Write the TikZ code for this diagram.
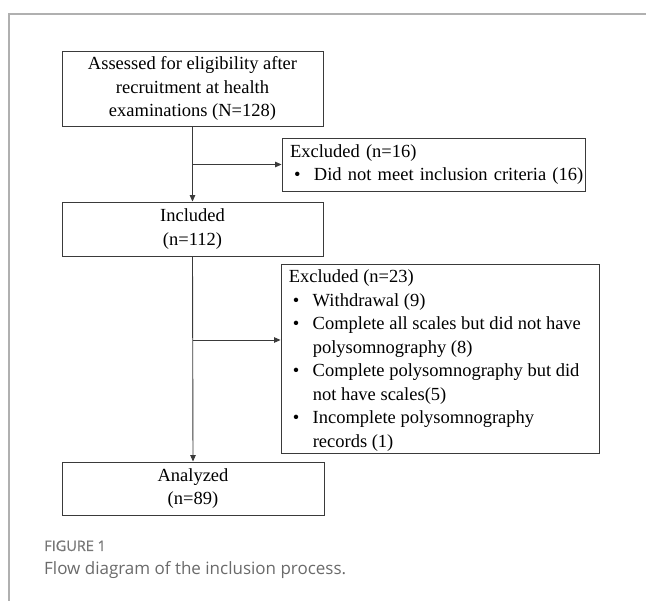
\documentclass[tikz,border=0pt]{standalone}
\usepackage{fontspec}
\setmainfont{Liberation Serif}
\newfontfamily\capfont{Open Sans}
\newfontfamily\figfont[FakeBold=0.8]{Open Sans}
\usetikzlibrary{arrows.meta,calc}
\definecolor{framegray}{HTML}{B0B0B0}
\definecolor{boxline}{HTML}{3A3A3A}
\definecolor{capgray}{HTML}{6A6A6A}
\definecolor{figgray}{HTML}{767676}
\newcommand{\bitem}{\hspace*{4pt}\makebox[20pt][l]{\textbullet}}
\newcommand{\bcont}{\hspace*{24pt}}
\begin{document}
\begin{tikzpicture}[x=1pt,y=-1pt,
  txt/.style={inner sep=0pt, font=\fontsize{18.5}{23.5}\selectfont},
  box/.style={txt, draw=boxline, line width=0.9pt},
  cbox/.style={box, align=center},
  lbox/.style={box, align=left, inner xsep=8pt},
  arr/.style={draw=boxline, line width=0.9pt, -{Triangle[length=6.5pt,width=5.5pt]}}]
\useasboundingbox (0,0) rectangle (646,601);
\draw[framegray, line width=1.2pt] (646,14) -- (9,14) -- (9,601);

\node[cbox, minimum width=261pt, minimum height=75pt] (b1) at (192.5,88.5)
  {Assessed for eligibility after\\recruitment at health\\examinations (N=128)};
\node[lbox, text width=287pt, minimum height=53pt] (ex1) at (433.5,164.5)
  {\mbox{Excluded (n=16)}\\\mbox{\bitem Did not meet inclusion criteria (16)}};
\node[cbox, minimum width=261pt, minimum height=54pt] (inc) at (192.5,229)
  {Included\\(n=112)};
\node[box, minimum width=318pt, minimum height=189pt] (ex2) at (440,358.5) {};
\node[txt, align=left, anchor=north west] (ex2t) at ([xshift=8pt,yshift=-6pt]ex2.north west)
  {Excluded (n=23)\\
   \bitem Withdrawal (9)\\
   \bitem Complete all scales but did not have\\
   \bcont polysomnography (8)\\
   \bitem Complete polysomnography but did\\
   \bcont not have scales(5)\\
   \bitem Incomplete polysomnography\\
   \bcont records (1)};
\node[cbox, minimum width=262pt, minimum height=53pt] (ana) at (193,488.5)
  {Analyzed\\(n=89)};

\coordinate (j1) at (b1.south |- ex1.west);
\coordinate (j2) at (193,340);
\draw[arr] (b1.south) -- (inc.north);
\draw[arr] (j1) -- (ex1.west |- j1);
\draw[arr] (inc.south) -- (ana.north);
\draw[arr] (j2) -- (ex2.west |- j2);

\node[anchor=base west, inner sep=0pt, text=figgray,
  font=\figfont\fontsize{14.5}{14.5}\selectfont] (fig) at (44,551) {FIGURE 1};
\node[anchor=base west, inner sep=0pt, text=capgray,
  font=\capfont\fontsize{17}{17}\selectfont] (cap) at (44,575) {Flow diagram of the inclusion process.};
\end{tikzpicture}
\end{document}
